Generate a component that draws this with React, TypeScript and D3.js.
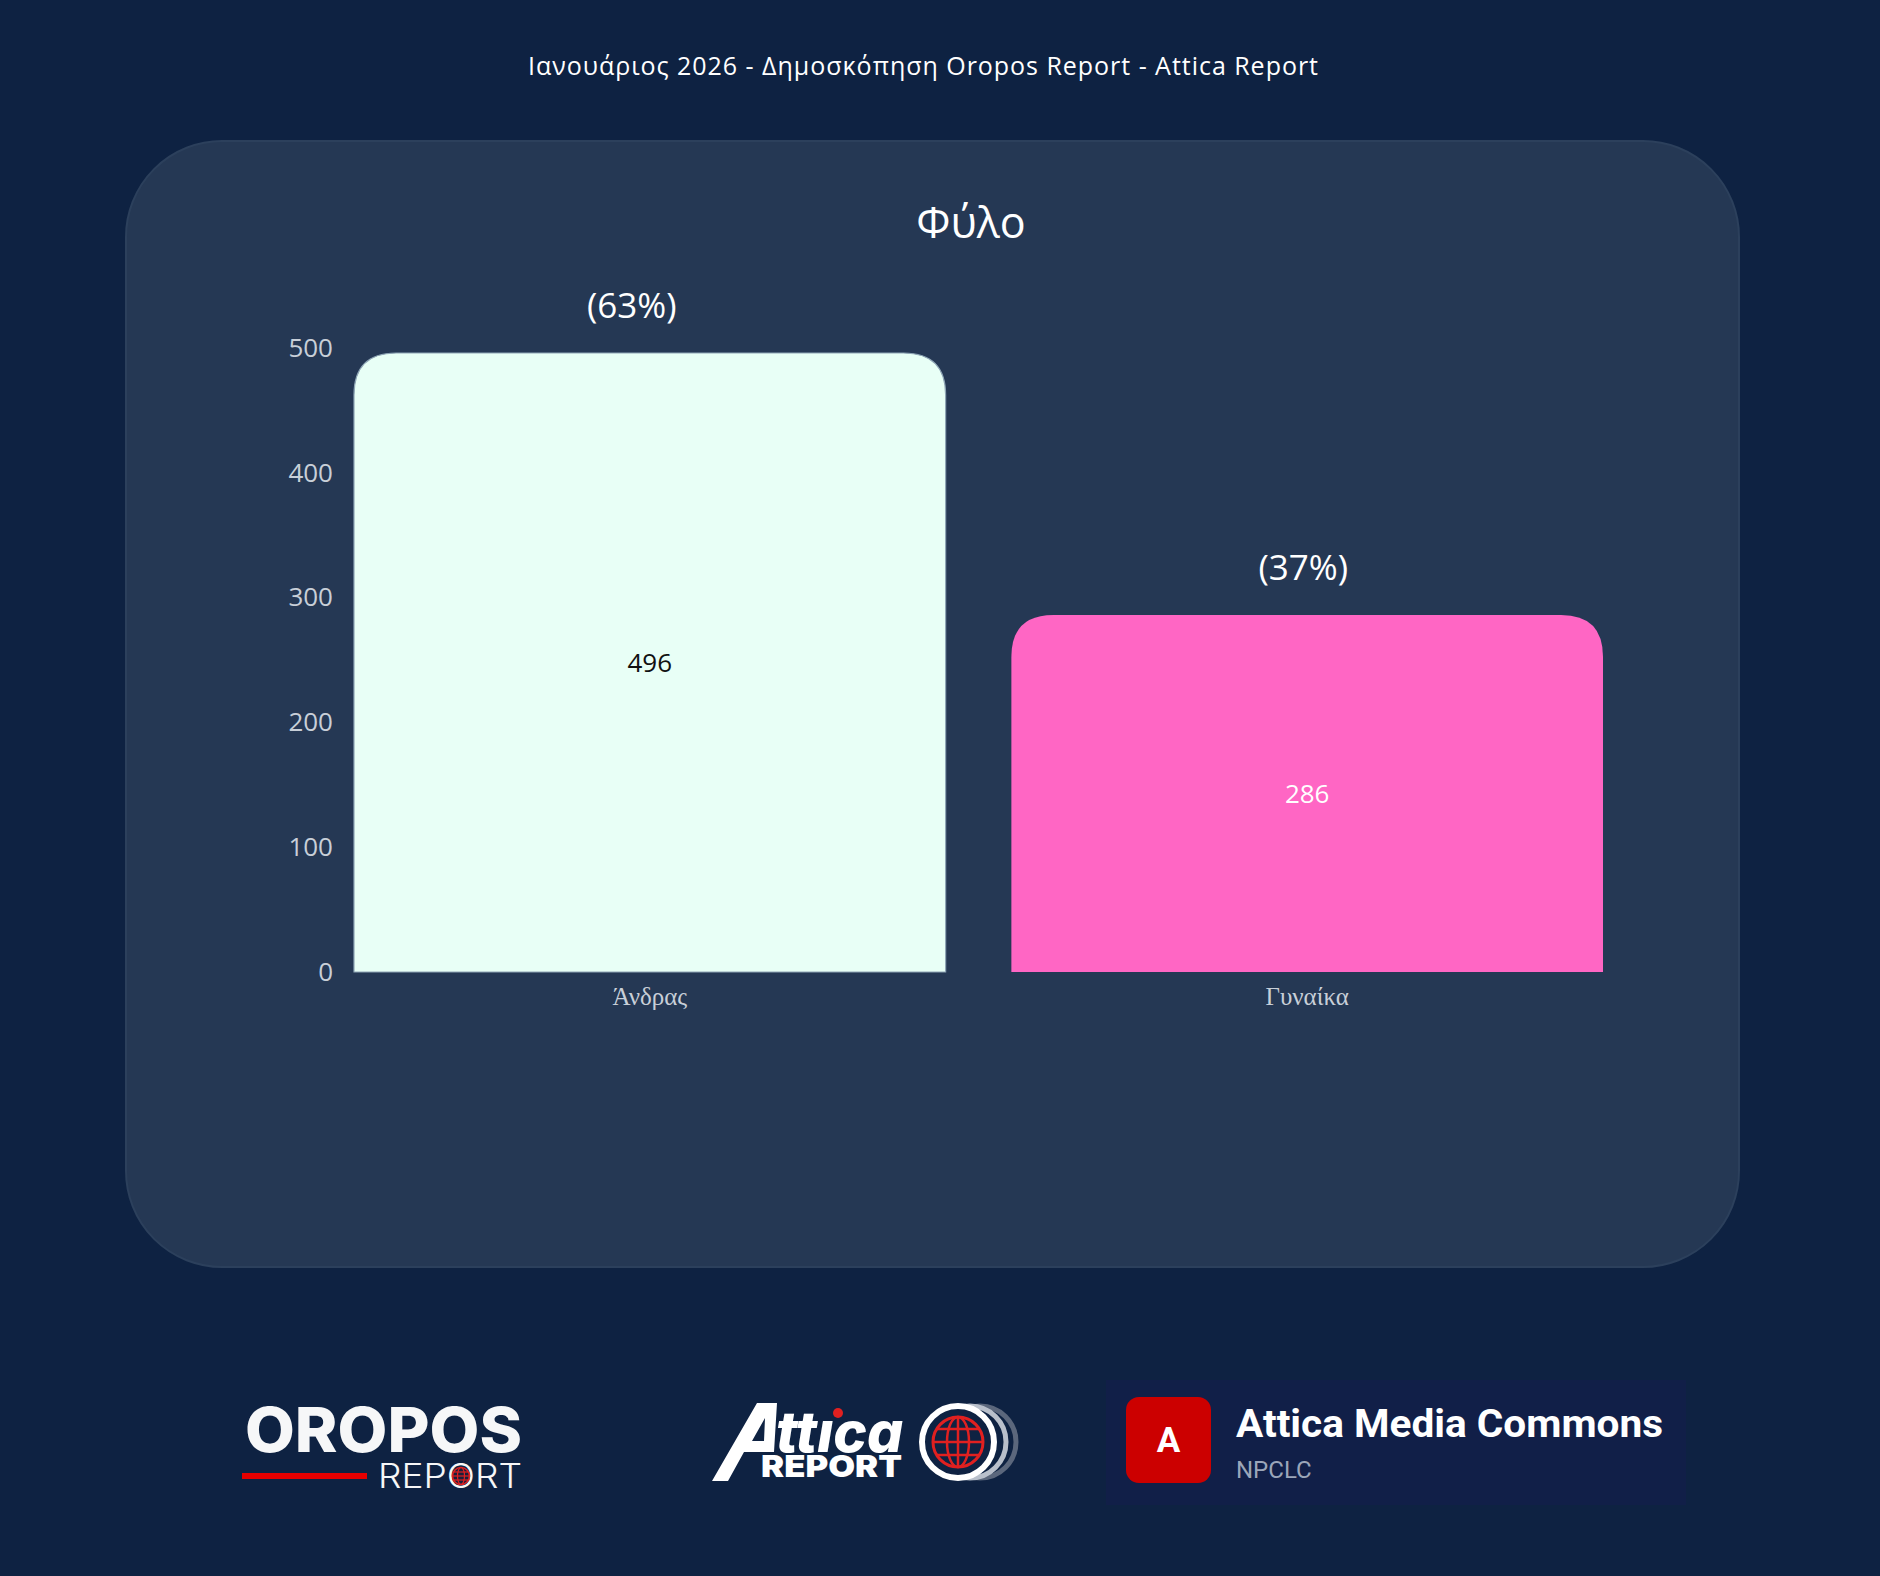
import { useEffect, useRef } from 'react';
import * as d3 from 'd3';

// Poll results — gender split
const categories = ['Άνδρας', 'Γυναίκα'];
const counts = [496, 286];
const percents = [63, 37];
const yTicks = [0, 100, 200, 300, 400, 500];

const pageTitle = 'Ιανουάριος 2026 - Δημοσκόπηση Oropos Report - Attica Report';
const chartTitle = 'Φύλο';

const barColors = ['#e8fff6', '#ff66c4'];
const valueColors = ['#111111', '#ffffff'];

const W = 1880, H = 1576;
const BG = '#0e2242';

function topRoundedBar(x: number, y: number, w: number, h: number, r: number) {
  const rr = Math.min(r, w / 2, h);
  return `M${x},${y + h}V${y + rr}Q${x},${y} ${x + rr},${y}H${x + w - rr}Q${x + w},${y} ${x + w},${y + rr}V${y + h}Z`;
}

export default function App() {
  const svgRef = useRef<SVGSVGElement>(null);

  useEffect(() => {
    if (!svgRef.current) return;
    const svg = d3.select(svgRef.current);
    svg.selectAll('*').remove();

    const sans = "'Open Sans', 'Noto Sans', sans-serif";

    svg.append('rect').attr('width', W).attr('height', H).attr('fill', BG);

    // page title
    svg.append('text').attr('x', 923).attr('y', 75).attr('text-anchor', 'middle')
      .attr('fill', '#ffffff').attr('font-size', 25).attr('font-family', sans)
      .attr('textLength', 790).attr('lengthAdjust', 'spacing')
      .text(pageTitle);

    // card
    svg.append('rect').attr('x', 126).attr('y', 141).attr('width', 1613).attr('height', 1126)
      .attr('rx', 96).attr('fill', '#253854').attr('stroke', '#2c405c').attr('stroke-width', 2);

    svg.append('text').attr('x', 971).attr('y', 238).attr('text-anchor', 'middle')
      .attr('fill', '#ffffff').attr('font-size', 43).attr('font-family', sans)
      .text(chartTitle);

    // scales
    const x = d3.scaleBand<string>().domain(categories).range([354, 1603]).paddingInner(0.1).paddingOuter(0);
    const y = d3.scaleLinear().domain([0, 500]).range([972, 348]);

    // y axis
    const yAxis = svg.append('g').attr('transform', 'translate(345,0)')
      .call(d3.axisLeft(y).tickValues(yTicks).tickSize(0).tickPadding(12));
    yAxis.select('.domain').remove();
    yAxis.selectAll('text').attr('fill', '#c8cfd8').attr('font-size', 26).attr('font-family', sans);

    // x axis
    const xAxis = svg.append('g').attr('transform', 'translate(0,972)')
      .call(d3.axisBottom(x).tickSize(0).tickPadding(15));
    xAxis.select('.domain').remove();
    xAxis.selectAll('text').attr('fill', '#c8cfd8').attr('font-size', 25)
      .attr('font-family', "'Liberation Serif', 'DejaVu Serif', serif");

    // bars
    categories.forEach((c, i) => {
      const bx = x(c)!, bw = x.bandwidth();
      const top = y(counts[i]), base = y(0);
      svg.append('path').attr('d', topRoundedBar(bx, top, bw, base - top, 42))
        .attr('fill', barColors[i])
        .attr('stroke', i === 0 ? '#8fa6b6' : 'none').attr('stroke-width', 1.2);
      svg.append('text').attr('x', bx + bw / 2).attr('y', (top + base) / 2).attr('dy', '0.35em')
        .attr('text-anchor', 'middle').attr('fill', valueColors[i]).attr('font-size', 26)
        .attr('font-family', sans).text(counts[i]);
      svg.append('text').attr('x', bx + bw / 2 - (i === 0 ? 18 : 4)).attr('y', top - 35)
        .attr('text-anchor', 'middle').attr('fill', '#ffffff').attr('font-size', 35)
        .attr('font-family', sans).text(`(${percents[i]}%)`);
    });

    // ---- footer logos ----
    const inter = "Inter, 'Noto Sans', sans-serif";

    // Oropos Report
    svg.append('text').attr('x', 245).attr('y', 1452).attr('fill', '#f6f7f8')
      .attr('font-size', 62).attr('font-weight', 800).attr('font-family', inter)
      .attr('textLength', 277).attr('lengthAdjust', 'spacingAndGlyphs').text('OROPOS');
    svg.append('rect').attr('x', 242).attr('y', 1473).attr('width', 125).attr('height', 6).attr('fill', '#e60000');
    svg.append('text').attr('x', 378).attr('y', 1488).attr('fill', '#f6f7f8')
      .attr('font-size', 34).attr('font-weight', 300).attr('font-family', inter)
      .attr('textLength', 144).attr('lengthAdjust', 'spacingAndGlyphs').text('REPORT');
    const og = svg.append('g').attr('transform', 'translate(461,1476)');
    og.append('circle').attr('r', 8.5).attr('fill', '#1a1f3a').attr('stroke', '#e02020').attr('stroke-width', 1.6);
    og.append('ellipse').attr('rx', 3.5).attr('ry', 8.5).attr('fill', 'none').attr('stroke', '#e02020').attr('stroke-width', 1.2);
    [-4, 0, 4].forEach(d => og.append('line').attr('x1', -8).attr('x2', 8).attr('y1', d).attr('y2', d)
      .attr('stroke', '#e02020').attr('stroke-width', 1.2));

    // Attica Report — stylised slanted A
    svg.append('path')
      .attr('d', 'M712,1481L757,1403L777,1403L774,1452L744,1452L728,1481Z M752,1441L765,1418L764,1441Z')
      .attr('fill', '#ffffff').attr('fill-rule', 'evenodd');
    svg.append('text').attr('x', 776).attr('y', 1452).attr('fill', '#ffffff')
      .attr('font-size', 56).attr('font-weight', 800).attr('font-style', 'italic').attr('font-family', inter)
      .attr('textLength', 127).attr('lengthAdjust', 'spacingAndGlyphs').text('ttıca');
    svg.append('circle').attr('cx', 838).attr('cy', 1413).attr('r', 5).attr('fill', '#e02020');
    svg.append('text').attr('x', 761).attr('y', 1477).attr('fill', '#ffffff')
      .attr('font-size', 30).attr('font-weight', 900).attr('font-family', inter)
      .attr('textLength', 141).attr('lengthAdjust', 'spacingAndGlyphs').text('REPORT');
    const ag = svg.append('g').attr('transform', 'translate(958,1442)');
    ag.append('circle').attr('cx', 22).attr('r', 36).attr('fill', 'none').attr('stroke', '#5b677c').attr('stroke-width', 5);
    ag.append('circle').attr('cx', 12).attr('r', 36).attr('fill', 'none').attr('stroke', '#b9c0cb').attr('stroke-width', 5);
    ag.append('circle').attr('r', 36).attr('fill', BG).attr('stroke', '#ffffff').attr('stroke-width', 6);
    ag.append('circle').attr('r', 25).attr('fill', 'none').attr('stroke', '#e02020').attr('stroke-width', 3);
    ag.append('ellipse').attr('rx', 11).attr('ry', 25).attr('fill', 'none').attr('stroke', '#e02020').attr('stroke-width', 2.5);
    ag.append('line').attr('x1', 0).attr('x2', 0).attr('y1', -25).attr('y2', 25).attr('stroke', '#e02020').attr('stroke-width', 2.5);
    [-13, 0, 13].forEach(d => {
      const hw = Math.sqrt(25 * 25 - d * d);
      ag.append('line').attr('x1', -hw).attr('x2', hw).attr('y1', d).attr('y2', d)
        .attr('stroke', '#e02020').attr('stroke-width', 2.5);
    });

    // Attica Media Commons
    const roboto = "Roboto, 'Noto Sans', sans-serif";
    svg.append('rect').attr('x', 1106).attr('y', 1380).attr('width', 580).attr('height', 125).attr('fill', '#111f48');
    svg.append('rect').attr('x', 1126).attr('y', 1397).attr('width', 85).attr('height', 86).attr('rx', 13).attr('fill', '#cc0000');
    svg.append('text').attr('x', 1168.5).attr('y', 1452).attr('text-anchor', 'middle').attr('fill', '#ffffff')
      .attr('font-size', 35).attr('font-weight', 700).attr('font-family', roboto).text('A');
    svg.append('text').attr('x', 1236).attr('y', 1437).attr('fill', '#ffffff')
      .attr('font-size', 38).attr('font-weight', 700).attr('font-family', roboto)
      .attr('textLength', 427).attr('lengthAdjust', 'spacingAndGlyphs').text('Attica Media Commons');
    svg.append('text').attr('x', 1236).attr('y', 1478).attr('fill', '#9ba6b9')
      .attr('font-size', 24).attr('font-family', roboto).text('NPCLC');
  }, []);

  return (
    <>
      <style>{`body{margin:0;background:${BG}}`}</style>
      <svg ref={svgRef} width={W} height={H} viewBox={`0 0 ${W} ${H}`} style={{ display: 'block' }} />
    </>
  );
}
